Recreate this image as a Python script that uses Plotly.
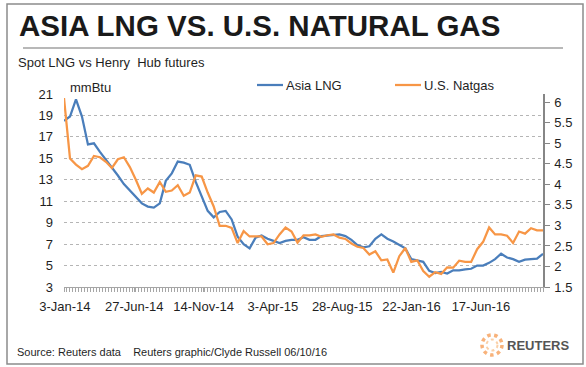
import plotly.graph_objects as go

tick_labels = ['3-Jan-14', '27-Jun-14', '14-Nov-14', '3-Apr-15', '28-Aug-15', '22-Jan-16', '17-Jun-16']

asia_lng = [18.5, 18.9, 20.5, 18.9, 16.3, 16.4, 15.6, 14.9, 14.2, 13.4,
            12.6, 12.0, 11.5, 10.8, 10.5, 10.4, 10.8, 12.9, 13.6, 14.7,
            14.6, 14.4, 12.8, 11.5, 10.1, 9.5, 10.0, 10.1, 9.3, 7.7,
            7.0, 6.6, 7.6, 7.8, 7.5, 7.3, 7.1, 7.3, 7.4, 7.4,
            7.65, 7.4, 7.4, 7.75, 7.8, 7.9, 7.9, 7.75, 7.4, 6.9,
            6.7, 6.8, 7.5, 7.9, 7.5, 7.25, 6.95, 6.6, 5.6, 5.5,
            5.35, 4.5, 4.3, 4.4, 4.25, 4.55, 4.55, 4.65, 4.7, 5.0,
            5.0, 5.25, 5.6, 6.1, 5.75, 5.6, 5.35, 5.55, 5.58, 5.65,
            6.1]

us_natgas = [6.1, 4.63, 4.48, 4.37, 4.45, 4.69, 4.66, 4.55, 4.40, 4.61,
             4.66, 4.42, 4.11, 3.77, 3.90, 3.80, 4.06, 3.82, 3.85, 3.98,
             3.72, 3.80, 4.22, 4.19, 3.80, 3.46, 2.99, 2.99, 2.94, 2.57,
             2.86, 2.73, 2.73, 2.73, 2.54, 2.57, 2.78, 2.95, 2.85, 2.58,
             2.76, 2.76, 2.78, 2.72, 2.76, 2.78, 2.70, 2.67, 2.56, 2.48,
             2.45, 2.29, 2.37, 2.15, 2.17, 1.85, 2.25, 2.45, 2.11, 2.15,
             1.89, 1.75, 1.86, 1.82, 1.98, 1.97, 2.14, 2.11, 2.11, 2.42,
             2.60, 2.95, 2.78, 2.78, 2.75, 2.57, 2.85, 2.80, 2.93, 2.88,
             2.88]

series_names = ['Asia LNG', 'U.S. Natgas']

x_idx = list(range(len(asia_lng)))

# ---- layout geometry (pixels) ----
W, H = 586, 367
PL, PR, PT, PB = 64, 543, 94, 287


def px(x):
    return (x - PL) / (PR - PL)


def py(y):
    return (PB - y) / (PB - PT)


BLUE = '#4A7EBB'
ORANGE = '#F79646'
FONT = 'Liberation Sans, Arial, sans-serif'
TXT = '#1f1f1f'

fig = go.Figure()
fig.add_trace(go.Scatter(x=x_idx, y=asia_lng, name=series_names[0], mode='lines',
                         line=dict(color=BLUE, width=2.25), yaxis='y'))
fig.add_trace(go.Scatter(x=x_idx, y=us_natgas, name=series_names[1], mode='lines',
                         line=dict(color=ORANGE, width=2.25), yaxis='y2'))

tick_step = 11.58
tickvals = [0.15 + tick_step * i for i in range(len(tick_labels))]

fig.update_layout(
    width=W, height=H,
    margin=dict(l=PL, r=W - PR, t=PT, b=H - PB, pad=0, autoexpand=False),
    paper_bgcolor='white', plot_bgcolor='white',
    font=dict(family=FONT, size=13, color=TXT),
    showlegend=False,
    xaxis=dict(range=[0, len(asia_lng) - 1], tickvals=tickvals, ticktext=tick_labels,
               showgrid=False, zeroline=False, showline=True, linecolor='#a6a6a6', linewidth=1,
               ticks='outside', ticklen=4, tickcolor='#a6a6a6', tickwidth=1,
               minor=dict(dtick=0.5, tick0=0, ticks='outside', ticklen=4, tickcolor='#a6a6a6', tickwidth=1),
               tickfont=dict(size=13, color=TXT), ticklabelstandoff=3, automargin=False),
    yaxis=dict(range=[3, 21], tick0=3, dtick=2, showgrid=True, gridcolor='#b5b5b5',
               griddash='dot', gridwidth=1, zeroline=False, showline=False, ticks='',
               tickfont=dict(size=13, color=TXT), ticklabelstandoff=10, automargin=False),
    yaxis2=dict(range=[1.5, 6.2], tick0=1.5, dtick=0.5, overlaying='y', side='right',
                showgrid=False, zeroline=False, showline=True, linecolor='#868686', linewidth=1.5,
                ticks='outside', ticklen=5, tickcolor='#868686',
                tickfont=dict(size=13, color=TXT), ticklabelstandoff=2, automargin=False),
)

shapes = [
    # outer border
    dict(type='rect', xref='paper', yref='paper', x0=px(7), x1=px(583), y0=py(364), y1=py(4),
         line=dict(color='#8c8c8c', width=1.5), fillcolor='rgba(0,0,0,0)', layer='below'),
    # separator under title
    dict(type='line', xref='paper', yref='paper', x0=px(23), x1=px(563), y0=py(48), y1=py(48),
         line=dict(color='#a0a0a0', width=1.5)),
    # legend line samples
    dict(type='line', xref='paper', yref='paper', x0=px(257), x1=px(283), y0=py(85), y1=py(85),
         line=dict(color=BLUE, width=2.25)),
    dict(type='line', xref='paper', yref='paper', x0=px(395), x1=px(421), y0=py(85), y1=py(85),
         line=dict(color=ORANGE, width=2.25)),
    # Reuters logo ring
    dict(type='circle', xref='paper', yref='paper', x0=px(482), x1=px(502), y0=py(355), y1=py(335),
         line=dict(color='#F8B27A', width=3.5, dash='dot')),
    dict(type='circle', xref='paper', yref='paper', x0=px(486.5), x1=px(497.5), y0=py(350.5), y1=py(339.5),
         line=dict(color='#FAD0A8', width=2, dash='dot')),
]

annotations = [
    dict(text='<b>ASIA LNG VS. U.S. NATURAL GAS</b>', xref='paper', yref='paper',
         x=px(17), y=py(25), xanchor='left', yanchor='middle', showarrow=False,
         font=dict(size=29.5, color='#1a1a1a', family=FONT)),
    dict(text='Spot LNG vs Henry  Hub futures', xref='paper', yref='paper',
         x=px(16), y=py(62), xanchor='left', yanchor='middle', showarrow=False,
         font=dict(size=13, color=TXT, family=FONT)),
    dict(text='mmBtu', xref='paper', yref='paper',
         x=px(68), y=py(87), xanchor='left', yanchor='middle', showarrow=False,
         font=dict(size=13, color=TXT, family=FONT)),
    dict(text=series_names[0], xref='paper', yref='paper',
         x=px(284), y=py(85), xanchor='left', yanchor='middle', showarrow=False,
         font=dict(size=13, color=TXT, family=FONT)),
    dict(text=series_names[1], xref='paper', yref='paper',
         x=px(422), y=py(85), xanchor='left', yanchor='middle', showarrow=False,
         font=dict(size=13, color=TXT, family=FONT)),
    dict(text='Source: Reuters data    Reuters graphic/Clyde Russell 06/10/16', xref='paper', yref='paper',
         x=px(15), y=py(352), xanchor='left', yanchor='middle', showarrow=False,
         font=dict(size=11, color=TXT, family=FONT)),
    dict(text='<b>REUTERS</b>', xref='paper', yref='paper',
         x=px(505), y=py(345), xanchor='left', yanchor='middle', showarrow=False,
         font=dict(size=13, color='#555555', family=FONT)),
]

fig.update_layout(shapes=shapes, annotations=annotations)

fig.write_html('out.html', config={'displayModeBar': False},
               post_script="document.body.style.margin='0px';document.body.style.overflow='hidden';")
